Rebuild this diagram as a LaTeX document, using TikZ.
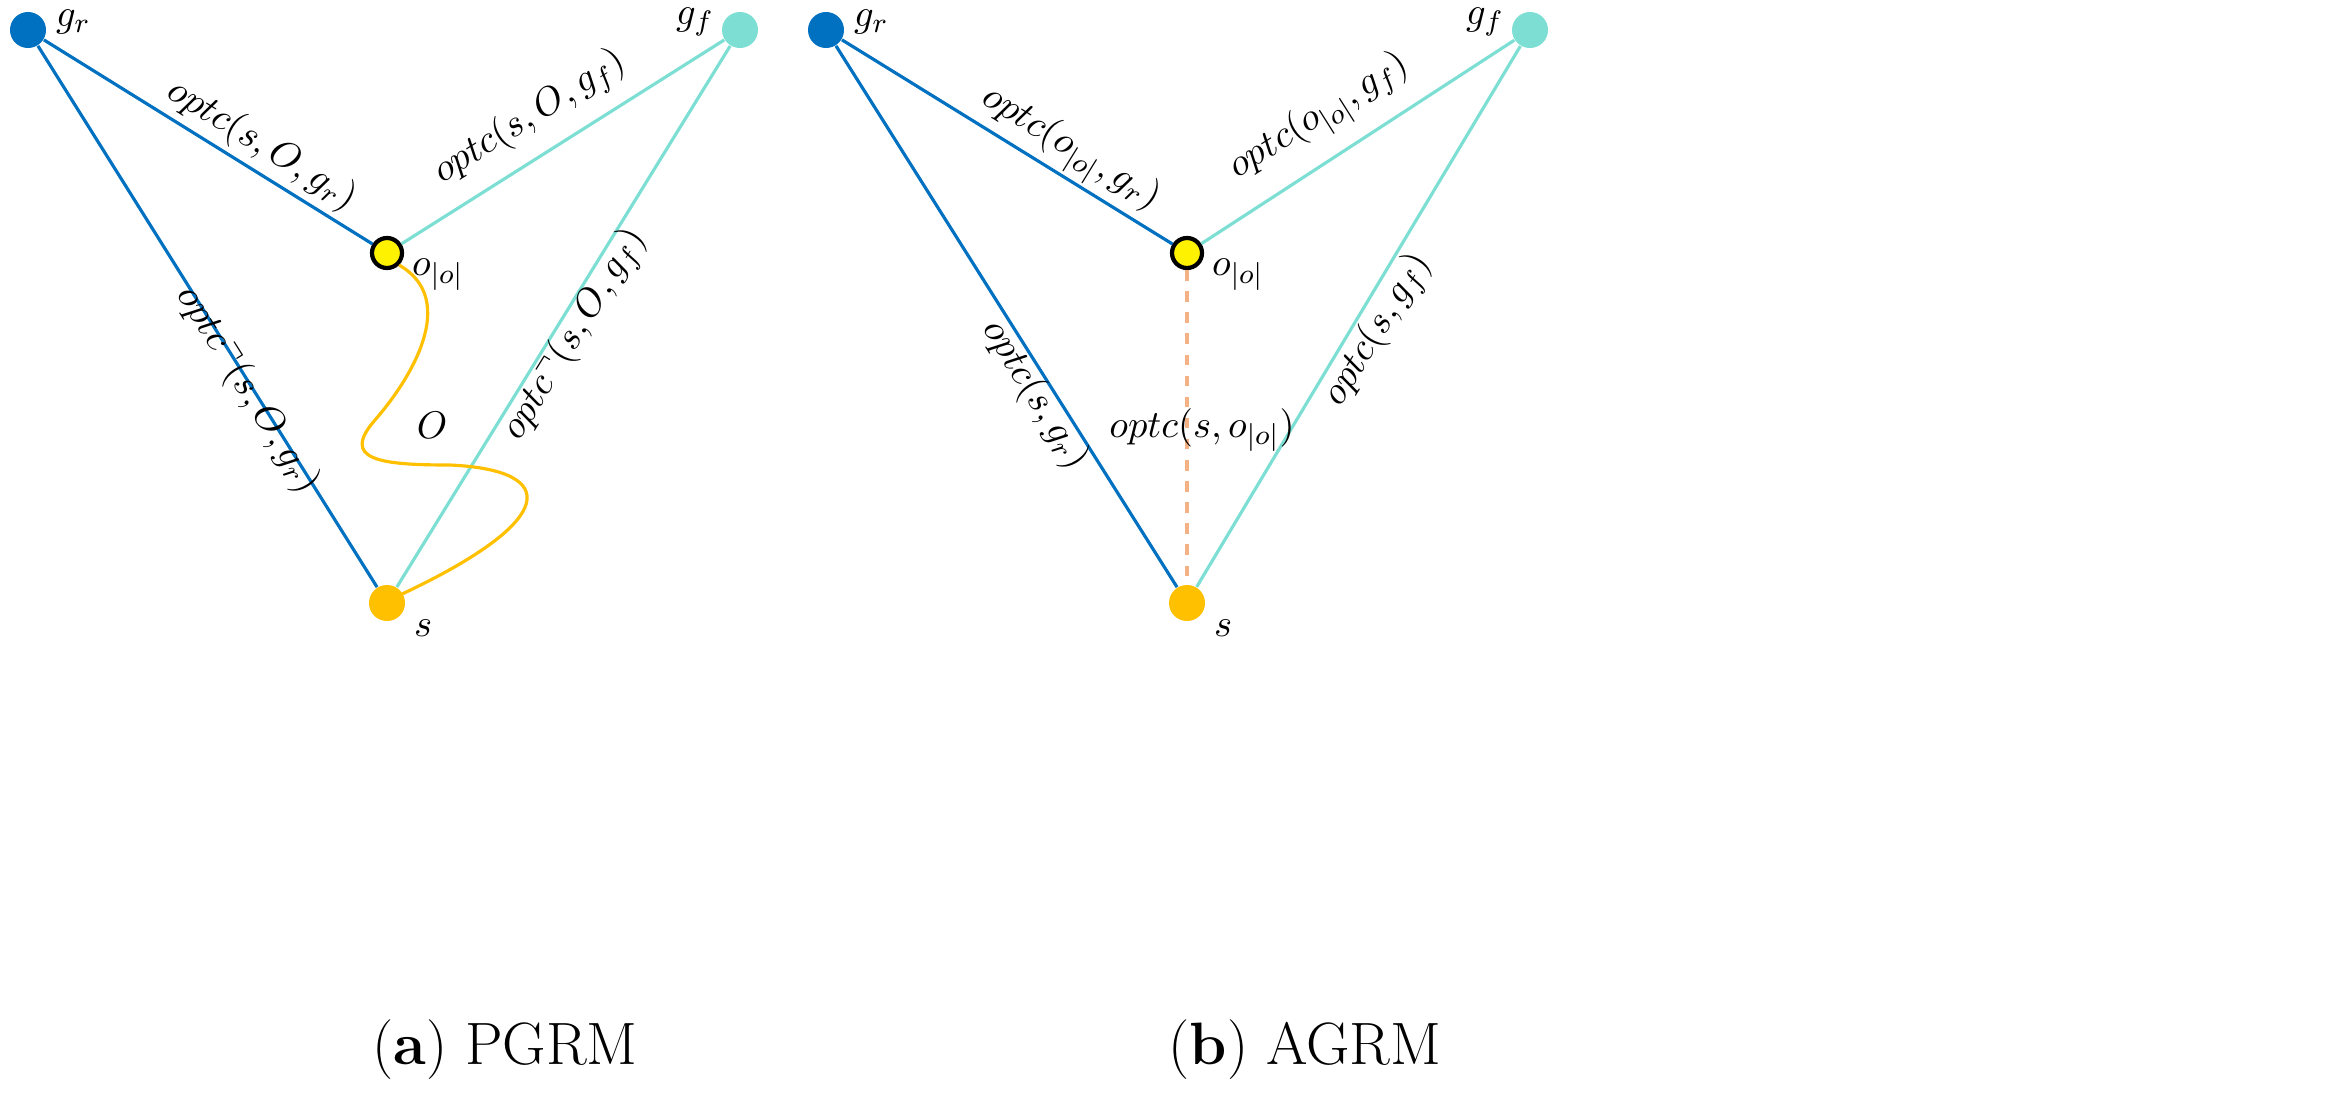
\documentclass[tikz,border=0pt]{standalone}
\usepackage{amssymb}
\begin{document}
\begin{tikzpicture}[x=0.01cm,y=-0.01cm]
\definecolor{cblue}{RGB}{0,112,192}
\definecolor{ccyan}{RGB}{125,223,212}
\definecolor{corange}{RGB}{255,192,0}
\definecolor{cdash}{RGB}{244,177,131}
\tikzset{dot/.style={circle,inner sep=0pt,minimum size=0.36cm},
 lbl/.style={font=\fontsize{11}{13}\selectfont,inner sep=1pt},
 captxt/.style={font=\fontsize{17}{20}\selectfont},
 ln/.style={line width=0.9pt}}
\useasboundingbox (0,0) rectangle (2346,1118);
% left panel
\node[dot,fill=cblue] (gr) at (28,30) {};
\node[dot,fill=ccyan] (gf) at (740,30) {};
\node[dot,fill=yellow,draw=black,line width=1.2pt,minimum size=0.3cm] (o) at (387,253) {};
\node[dot,fill=corange] (s) at (387,603) {};
\draw[cblue,ln] (gr) -- (o);
\draw[cblue,ln] (gr) -- (s);
\draw[ccyan,ln] (o) -- (gf);
\draw[ccyan,ln] (s) -- (gf);
\draw[corange,ln] (o.south east) .. controls (460,300) and (410,380) .. (375,420)
 .. controls (340,460) and (380,465) .. (450,465)
 .. controls (560,470) and (560,520) .. (400,595);
\node[lbl] (lO) at (432,425) {$O$};
\node[lbl,rotate=-31.8] (l1) at (262,145) {$optc(s,O,g_r)$};
\node[lbl,rotate=-57.9] (l2) at (248,390) {$optc^{\neg}(s,O,g_r)$};
\node[lbl,rotate=32.3] (l3) at (530,118) {$optc(s,O,g_f)$};
\node[lbl,rotate=58.4] (l4) at (575,335) {$optc^{\neg}(s,O,g_f)$};
\node[lbl,anchor=west] (ngr) at (52,22) {$g_r$};
\node[lbl,anchor=east] (ngf) at (718,22) {$g_f$};
\node[lbl,anchor=west] (no) at (408,275) {$o_{|o|}$};
\node[lbl,anchor=west] (ns) at (410,628) {$s$};
\node[captxt] (ca) at (505,1050) {(\textbf{a}) PGRM};
% right panel
\node[dot,fill=cblue] (gr2) at (826,30) {};
\node[dot,fill=ccyan] (gf2) at (1530,30) {};
\node[dot,fill=yellow,draw=black,line width=1.2pt,minimum size=0.3cm] (o2) at (1187,253) {};
\node[dot,fill=corange] (s2) at (1187,603) {};
\draw[cblue,ln] (gr2) -- (o2);
\draw[cblue,ln] (gr2) -- (s2);
\draw[ccyan,ln] (o2) -- (gf2);
\draw[ccyan,ln] (s2) -- (gf2);
\draw[cdash,ln,dashed] (o2) -- (s2);
\node[lbl,rotate=-31.8] (r1) at (1070,150) {$optc(o_{|o|},g_r)$};
\node[lbl,rotate=-57.9] (r2) at (1035,395) {$optc(s,g_r)$};
\node[lbl,rotate=32.3] (r3) at (1320,118) {$optc(o_{|o|},g_f)$};
\node[lbl,rotate=58.4] (r4) at (1378,330) {$optc(s,g_f)$};
\node[lbl] (r5) at (1202,430) {$optc(s,o_{|o|})$};
\node[lbl,anchor=west] (ngr2) at (850,22) {$g_r$};
\node[lbl,anchor=east] (ngf2) at (1508,22) {$g_f$};
\node[lbl,anchor=west] (no2) at (1208,275) {$o_{|o|}$};
\node[lbl,anchor=west] (ns2) at (1210,628) {$s$};
\node[captxt] (cb) at (1305,1050) {(\textbf{b}) AGRM};
\end{tikzpicture}
\end{document}
